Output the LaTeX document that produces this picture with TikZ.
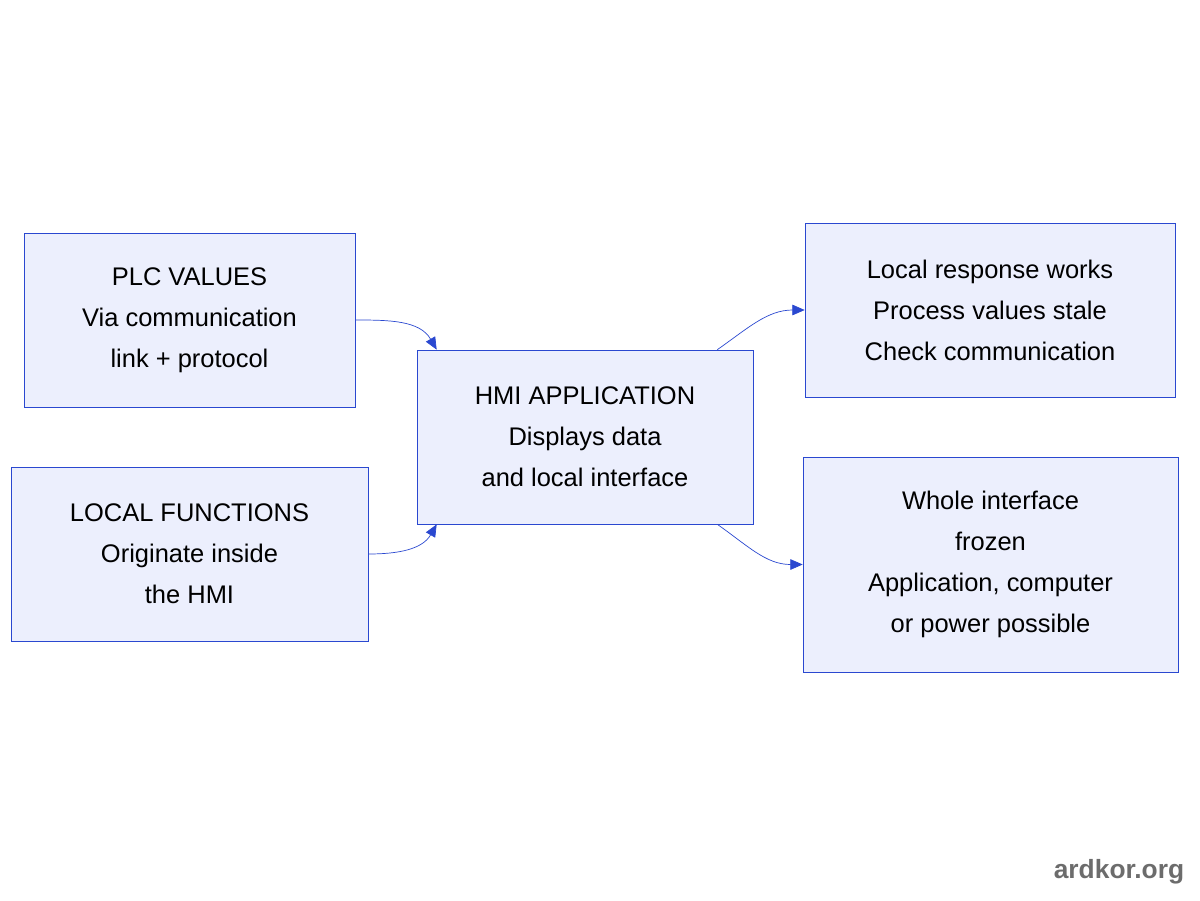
\documentclass[tikz,border=0pt]{standalone}
\usepackage{fontspec}
\setmainfont{Liberation Sans}
\usetikzlibrary{positioning, calc, arrows.meta}
\definecolor{boxfill}{HTML}{ECEFFD}
\definecolor{boxline}{HTML}{2A48D0}
\tikzset{
  infobox/.style={draw=boxline, fill=boxfill, thin, align=center, inner sep=0pt,
    font=\fontsize{14.5}{23.3}\selectfont},
  link/.style={draw=boxline, thin, -{Triangle[length=7pt,width=6pt]}}
}
\begin{document}
\begin{tikzpicture}[x=0.02cm,y=-0.02cm]
\useasboundingbox (0,0) rectangle (1200,900);
\node[infobox, minimum width=6.62cm, minimum height=3.48cm] (plc) at (189.5,320) {PLC VALUES\\Via communication\\link + protocol};
\node[infobox, minimum width=7.14cm, minimum height=3.48cm] (local) at (189.5,554) {LOCAL FUNCTIONS\\Originate inside\\the HMI};
\node[infobox, minimum width=6.72cm, minimum height=3.48cm] (hmi) at (585,437) {HMI APPLICATION\\Displays data\\and local interface};
\node[infobox, minimum width=7.40cm, minimum height=3.48cm] (resp) at (990,310) {Local response works\\Process values stale\\Check communication};
\node[infobox, minimum width=7.50cm, minimum height=4.30cm] (whole) at (990.5,564.5) {Whole interface\\frozen\\Application, computer\\or power possible};

\draw[link] (plc.east) to[out=0, in=120] ($(hmi.north west)+(20,0)$);
\draw[link] (local.east) to[out=0, in=-120] ($(hmi.south west)+(20,0)$);
\draw[link] ($(hmi.north east)+(-36,0)$) to[out=35, in=180] (resp.west);
\draw[link] ($(hmi.south east)+(-36,0)$) to[out=-35, in=180] (whole.west);

\node[text=gray!85!black, font=\fontsize{15}{18}\selectfont\bfseries] (mark) at (1119,872) {ardkor.org};
\end{tikzpicture}
\end{document}
